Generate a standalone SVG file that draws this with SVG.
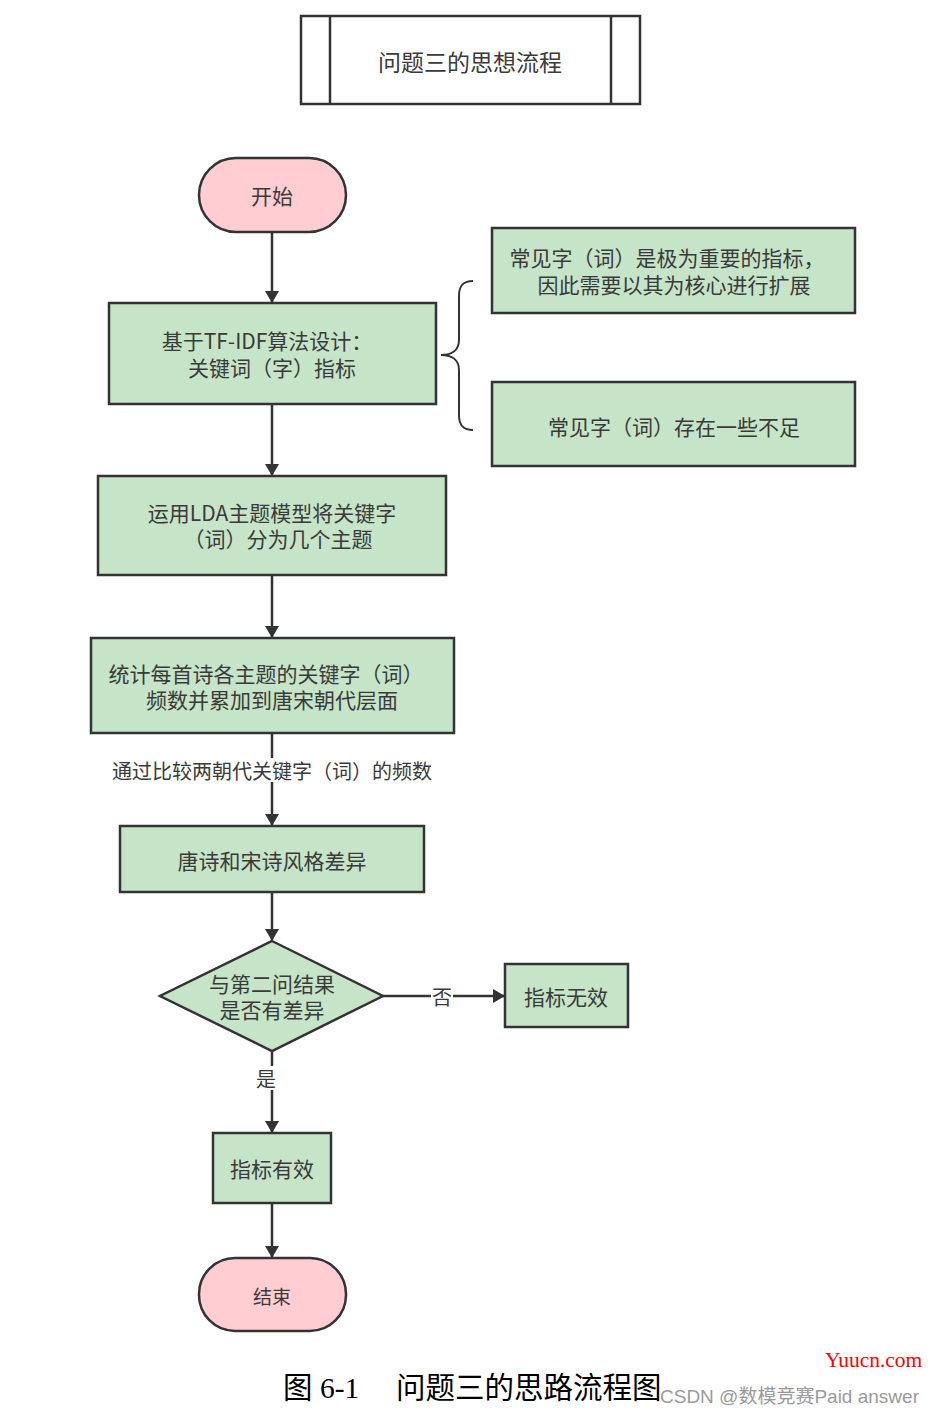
<svg xmlns="http://www.w3.org/2000/svg" width="935" height="1416" viewBox="0 0 935 1416">
<defs>
<style>
.box{fill:#c6e4c8;stroke:#333;stroke-width:2.5}
.pill{fill:#ffcdd2;stroke:#333;stroke-width:2.5}
.t{font-family:"Noto Sans CJK SC","Noto Sans",sans-serif;font-size:21px;fill:#3a3a3a;text-anchor:middle;dominant-baseline:central}
.lbl{font-family:"Noto Sans CJK SC","Noto Sans",sans-serif;font-size:20px;fill:#3a3a3a;text-anchor:middle;dominant-baseline:central}
.c{stroke:#333;stroke-width:2.5;fill:none}
</style>
<marker id="ah" viewBox="0 0 12 14" refX="11" refY="7" markerWidth="12" markerHeight="14" markerUnits="userSpaceOnUse" orient="auto">
<path d="M0,0 L12,7 L0,14 Z" fill="#333"/>
</marker>
</defs>
<rect width="935" height="1416" fill="#fff"/>

<g id="title">
<rect x="301" y="16" width="339" height="88" fill="#fff" stroke="#333" stroke-width="2.5"/>
<line x1="330" y1="16" x2="330" y2="104" stroke="#333" stroke-width="2.5"/>
<line x1="611" y1="16" x2="611" y2="104" stroke="#333" stroke-width="2.5"/>
<text class="t" x="470" y="61" style="font-size:23px">问题三的思想流程</text>
</g>

<g id="connectors">
<line class="c" x1="272" y1="232" x2="272" y2="302" marker-end="url(#ah)"/>
<line class="c" x1="272" y1="404" x2="272" y2="475" marker-end="url(#ah)"/>
<line class="c" x1="272" y1="575" x2="272" y2="637" marker-end="url(#ah)"/>
<line class="c" x1="272" y1="733" x2="272" y2="825" marker-end="url(#ah)"/>
<line class="c" x1="272" y1="892" x2="272" y2="940" marker-end="url(#ah)"/>
<line class="c" x1="383" y1="996" x2="504" y2="996" marker-end="url(#ah)"/>
<line class="c" x1="272" y1="1051" x2="272" y2="1132" marker-end="url(#ah)"/>
<line class="c" x1="272" y1="1203" x2="272" y2="1257" marker-end="url(#ah)"/>
<rect x="106" y="758" width="332" height="24" fill="#fff"/>
<text class="lbl" x="272" y="770">通过比较两朝代关键字（词）的频数</text>
<rect x="431" y="984" width="22" height="24" fill="#fff"/>
<text class="lbl" x="442" y="996">否</text>
<rect x="255" y="1066" width="22" height="24" fill="#fff"/>
<text class="lbl" x="266" y="1078">是</text>
<path d="M473,281 C462,281 459,287 459,296 L459,340 C459,350 452,355 441,355 C452,355 459,360 459,370 L459,415 C459,424 462,430 473,430" fill="none" stroke="#333" stroke-width="2"/>
</g>

<g id="start">
<rect class="pill" x="199" y="158" width="147" height="74" rx="37" ry="37"/>
<text class="t" x="272" y="195">开始</text>
</g>

<g id="tfidf">
<rect class="box" x="109" y="303" width="327" height="101"/>
<text class="t"><tspan x="267" y="340">基于TF-IDF算法设计：</tspan><tspan x="272" y="367">关键词（字）指标</tspan></text>
</g>

<g id="note1">
<rect class="box" x="492" y="228" width="363" height="85"/>
<text class="t"><tspan x="667" y="257">常见字（词）是极为重要的指标，</tspan><tspan x="674" y="284">因此需要以其为核心进行扩展</tspan></text>
</g>

<g id="note2">
<rect class="box" x="492" y="382" width="363" height="84"/>
<text class="t" x="674" y="426">常见字（词）存在一些不足</text>
</g>

<g id="lda">
<rect class="box" x="98" y="476" width="348" height="99"/>
<text class="t"><tspan x="272" y="512">运用LDA主题模型将关键字</tspan><tspan x="278" y="538">（词）分为几个主题</tspan></text>
</g>

<g id="count">
<rect class="box" x="91" y="638" width="363" height="95"/>
<text class="t"><tspan x="266" y="673">统计每首诗各主题的关键字（词）</tspan><tspan x="272" y="699">频数并累加到唐宋朝代层面</tspan></text>
</g>

<g id="diff">
<rect class="box" x="120" y="826" width="304" height="66"/>
<text class="t" x="272" y="860">唐诗和宋诗风格差异</text>
</g>

<g id="decision">
<polygon points="272,941 383,996 272,1051 160,996" fill="#c6e4c8" stroke="#333" stroke-width="2.5"/>
<text class="t"><tspan x="272" y="983">与第二问结果</tspan><tspan x="272" y="1009">是否有差异</tspan></text>
</g>

<g id="invalid">
<rect class="box" x="505" y="964" width="123" height="63"/>
<text class="t" x="566" y="996">指标无效</text>
</g>

<g id="valid">
<rect class="box" x="213" y="1133" width="118" height="70"/>
<text class="t" x="272" y="1168">指标有效</text>
</g>

<g id="end">
<rect class="pill" x="199" y="1258" width="147" height="73" rx="36" ry="36"/>
<text class="t" x="272" y="1295" style="font-size:19px">结束</text>
</g>

<g id="caption">
<text x="283" y="1398" font-family="'Liberation Serif','Noto Sans CJK SC',serif" font-size="29.5" fill="#000">图 6-1</text>
<text x="396" y="1398" font-family="'Liberation Serif','Noto Sans CJK SC',serif" font-size="29.5" fill="#000">问题三的思路流程图</text>
<text x="825" y="1367" font-family="'Liberation Serif',serif" font-size="21.5" fill="#ff0000">Yuucn.com</text>
<text x="660" y="1403" font-family="'Liberation Sans','Noto Sans CJK SC',sans-serif" font-size="19" fill="#9a9a9a">CSDN @数模竞赛Paid answer</text>
</g>
</svg>
